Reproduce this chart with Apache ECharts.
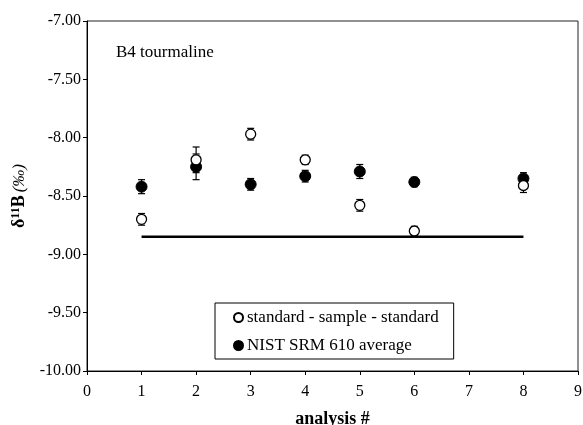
<!DOCTYPE html>
<html>
<head>
<meta charset="utf-8">
<script src="https://cdn.jsdelivr.net/npm/echarts@6/dist/echarts.min.js"></script>
<style>html,body{margin:0;padding:0;background:#fff}#c{width:583px;height:425px}</style>
</head>
<body>
<div id="c"></div>
<script>
var analysis = [1, 2, 3, 4, 5, 6, 8];
var sssValues = [-8.70, -8.19, -7.97, -8.19, -8.58, -8.80, -8.41];
var sssErrors = [0.05, 0.11, 0.05, 0.04, 0.05, 0.04, 0.06];
var nistValues = [-8.42, -8.25, -8.40, -8.33, -8.29, -8.38, -8.35];
var nistErrors = [0.06, 0.11, 0.05, 0.05, 0.06, 0.04, 0.05];
var refLineX = [1, 8];
var refLineY = [-8.85, -8.85];
var yTicks = [-10, -9.5, -9, -8.5, -8, -7.5, -7];

var FONT = '"Liberation Serif", "Times New Roman", serif';

function pairs(xs, ys) { return xs.map(function (x, i) { return [x, ys[i]]; }); }
function errData(xs, ys, es) { return xs.map(function (x, i) { return [x, ys[i] - es[i], ys[i] + es[i]]; }); }

function errRender(params, api) {
  var x = api.value(0);
  var lo = api.coord([x, api.value(1)]);
  var hi = api.coord([x, api.value(2)]);
  var cap = 3.5;
  var st = { stroke: '#000', lineWidth: 1.2 };
  return {
    type: 'group',
    children: [
      { type: 'line', shape: { x1: lo[0], y1: lo[1], x2: hi[0], y2: hi[1] }, style: st },
      { type: 'line', shape: { x1: lo[0] - cap, y1: lo[1], x2: lo[0] + cap, y2: lo[1] }, style: st },
      { type: 'line', shape: { x1: hi[0] - cap, y1: hi[1], x2: hi[0] + cap, y2: hi[1] }, style: st }
    ]
  };
}

var chart = echarts.init(document.getElementById('c'), null, { renderer: 'canvas' });
chart.setOption({
  animation: false,
  backgroundColor: '#fff',
  textStyle: { fontFamily: FONT },
  grid: { left: 87, right: 5, top: 21, bottom: 54, outerBoundsMode: 'none', containLabel: false,
    show: true, borderColor: '#222', borderWidth: 1, backgroundColor: 'transparent' },
  title: {
    text: 'B4 tourmaline', left: 111, top: 39,
    textStyle: { fontFamily: FONT, fontSize: 17, fontWeight: 'normal', color: '#000' }
  },
  legend: {
    orient: 'vertical', left: 215, top: 303,
    padding: [6, 15, 5, 18], itemGap: 11, itemWidth: 9, itemHeight: 9,
    borderColor: '#000', borderWidth: 1, backgroundColor: '#fff',
    textStyle: { fontFamily: FONT, fontSize: 17, color: '#000', padding: [0, 0, 0, -1] },
    data: [
      { name: 'standard - sample - standard', icon: 'circle' },
      { name: 'NIST SRM 610 average', icon: 'circle' }
    ]
  },
  xAxis: {
    type: 'value', min: 0, max: 9, interval: 1,
    name: 'analysis #', nameLocation: 'middle', nameGap: 39,
    nameTextStyle: { fontFamily: FONT, fontSize: 18, fontWeight: 'bold', color: '#000' },
    axisLine: { show: true, lineStyle: { color: '#000', width: 1 } },
    axisTick: { show: true, inside: false, length: 4, lineStyle: { color: '#000' } },
    axisLabel: { fontFamily: FONT, fontSize: 16, color: '#000', margin: 13 },
    splitLine: { show: false }
  },
  yAxis: {
    type: 'value', min: -10, max: -7, interval: 0.5,
    name: '{b|δ}{s|11}{b|B} {i|(‰)}', nameLocation: 'middle', nameGap: 52, nameRotate: 90,
    nameTextStyle: {
      fontFamily: FONT, color: '#000',
      rich: {
        b: { fontFamily: FONT, fontSize: 18, fontWeight: 'bold', color: '#000' },
        s: { fontFamily: FONT, fontSize: 12, fontWeight: 'bold', color: '#000', verticalAlign: 'top', padding: [0, 0, 8, 0] },
        i: { fontFamily: FONT, fontSize: 17, fontStyle: 'italic', color: '#000' }
      }
    },
    axisLine: { show: true, lineStyle: { color: '#000', width: 1 } },
    axisTick: { show: true, inside: false, length: 4, lineStyle: { color: '#000' } },
    axisLabel: { fontFamily: FONT, fontSize: 16, color: '#000', margin: 6,
      formatter: function (v) { return v.toFixed(2); } },
    splitLine: { show: false }
  },
  series: [
    {
      name: 'refline', type: 'line', data: pairs(refLineX, refLineY), symbol: 'none',
      lineStyle: { color: '#000', width: 2.5 }, silent: true, z: 1
    },
    {
      name: 'sssErr', type: 'custom', renderItem: errRender, data: errData(analysis, sssValues, sssErrors), z: 3, silent: true
    },
    {
      name: 'nistErr', type: 'custom', renderItem: errRender, data: errData(analysis, nistValues, nistErrors), z: 3, silent: true
    },
    {
      name: 'NIST SRM 610 average', type: 'scatter', data: pairs(analysis, nistValues),
      symbol: 'circle', symbolSize: 11,
      itemStyle: { color: '#000', borderColor: '#000', borderWidth: 1, opacity: 1 }, z: 4
    },
    {
      name: 'standard - sample - standard', type: 'scatter', data: pairs(analysis, sssValues),
      symbol: 'circle', symbolSize: 10,
      itemStyle: { color: '#fff', borderColor: '#000', borderWidth: 1.3, opacity: 1 }, z: 5
    }
  ]
});
</script>
</body>
</html>
